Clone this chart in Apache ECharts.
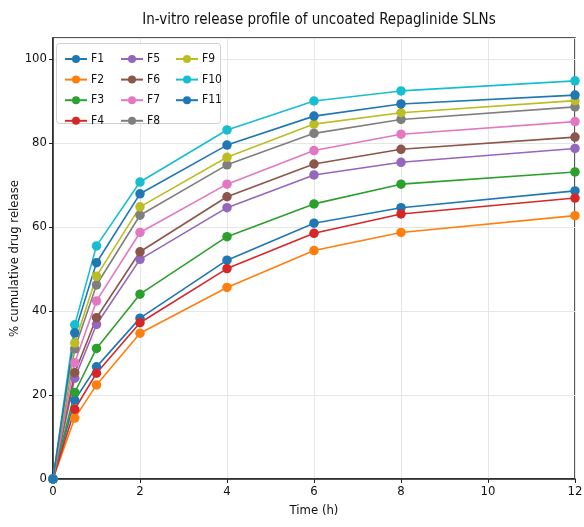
<!DOCTYPE html>
<html><head><meta charset="utf-8">
<script src="https://cdn.jsdelivr.net/npm/echarts@6/dist/echarts.min.js"></script>
<style>html,body{margin:0;padding:0;background:#fff}#c{width:584px;height:527px}</style>
</head><body><div id="c"></div>
<script>
const times = [0, 0.5, 1, 2, 4, 6, 8, 12];
const names = ['F1','F2','F3','F4','F5','F6','F7','F8','F9','F10','F11'];
const F1  = [0, 18.8, 26.7, 38.3, 52.1, 60.9, 64.6, 68.6];
const F2  = [0, 14.5, 22.4, 34.7, 45.6, 54.4, 58.7, 62.7];
const F3  = [0, 20.6, 31.1, 44.0, 57.7, 65.5, 70.2, 73.1];
const F4  = [0, 16.6, 25.2, 37.2, 50.1, 58.5, 63.1, 66.9];
const F5  = [0, 24.0, 36.8, 52.3, 64.6, 72.4, 75.4, 78.7];
const F6  = [0, 25.3, 38.4, 54.1, 67.2, 75.0, 78.5, 81.4];
const F7  = [0, 27.7, 42.4, 58.7, 70.2, 78.2, 82.1, 85.1];
const F8  = [0, 31.0, 46.2, 62.8, 74.8, 82.3, 85.6, 88.6];
const F9  = [0, 32.4, 48.3, 64.8, 76.6, 84.5, 87.2, 90.1];
const F10 = [0, 36.7, 55.5, 70.7, 83.1, 90.0, 92.4, 94.8];
const F11 = [0, 34.8, 51.5, 67.9, 79.5, 86.4, 89.3, 91.4];
const values = [F1,F2,F3,F4,F5,F6,F7,F8,F9,F10,F11];
const colors = ['#1f77b4','#ff7f0e','#2ca02c','#d62728','#9467bd','#8c564b','#e377c2','#7f7f7f','#bcbd22','#17becf','#1f77b4'];
const titleText = 'In-vitro release profile of uncoated Repaglinide SLNs';
const xName = 'Time (h)';
const yName = '% cumulative drug release';

const FONT = '"DejaVu Sans Condensed", "DejaVu Sans", sans-serif';
const chart = echarts.init(document.getElementById('c'), null, {renderer:'canvas'});
const series = names.map((n,i)=>({
  name:n, type:'line',
  data: times.map((t,j)=>[t, values[i][j]]),
  symbol:'circle', symbolSize:9.5,
  lineStyle:{width:1.6, color:colors[i]},
  itemStyle:{color:colors[i]},
  emphasis:{disabled:true}
}));
function legendCol(items, left){
  return {
    data: items, orient:'vertical', left:left, top:48,
    itemWidth:22, itemHeight:10, itemGap:8.6, z:10,
    textStyle:{fontFamily:FONT, fontSize:12, color:'#111', padding:[0,0,0,-1]},
    selectedMode:false
  };
}
chart.setOption({
  animation:false,
  backgroundColor:'#fff',
  color: colors,
  title:{text:titleText, left:314, textAlign:'center', top:8,
    textStyle:{fontFamily:FONT, fontSize:15, fontWeight:'normal', color:'#111'}},
  grid:{left:53, right:9, top:38, bottom:48, show:true, borderColor:'#222', borderWidth:1.5,
    backgroundColor:'transparent', containLabel:false, outerBoundsMode:'none'},
  legend:[legendCol(['F1','F2','F3','F4'],59), legendCol(['F5','F6','F7','F8'],115), legendCol(['F9','F10','F11'],170)],
  graphic:[{type:'rect', left:56, top:43, shape:{width:164, height:80, r:3},
    style:{fill:'rgba(255,255,255,0.85)', stroke:'#d0d0d0', lineWidth:1}, z:5}],
  xAxis:{type:'value', min:0, max:12, interval:2,
    name:xName, nameLocation:'middle', nameGap:25, nameMoveOverlap:false,
    nameTextStyle:{fontFamily:FONT, fontSize:13, color:'#111'},
    axisLine:{show:true, onZero:false, lineStyle:{color:'#222', width:1.5}},
    axisTick:{show:true, length:4, lineStyle:{color:'#222'}},
    axisLabel:{fontFamily:FONT, fontSize:13, color:'#111', margin:6},
    splitLine:{show:true, lineStyle:{color:'#e6e6e6', width:1}}},
  yAxis:{type:'value', min:0, max:105, interval:20,
    name:yName, nameLocation:'middle', nameGap:32, nameRotate:90, nameMoveOverlap:false,
    nameTextStyle:{fontFamily:FONT, fontSize:13, color:'#111'},
    axisLine:{show:true, onZero:false, lineStyle:{color:'#222', width:1.5}},
    axisTick:{show:true, length:4, lineStyle:{color:'#222'}},
    axisLabel:{fontFamily:FONT, fontSize:13, color:'#111', margin:6,
      showMaxLabel:false},
    splitLine:{show:true, lineStyle:{color:'#e6e6e6', width:1}}},
  series: series
});
</script></body></html>
